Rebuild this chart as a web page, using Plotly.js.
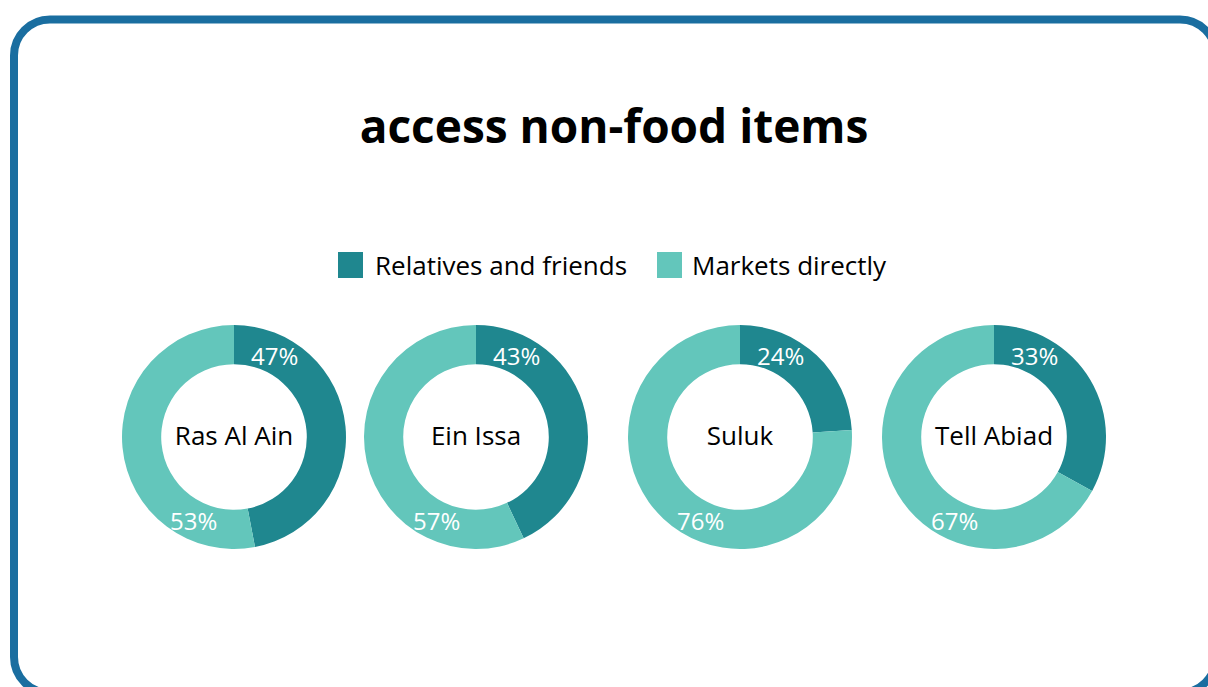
<!DOCTYPE html>
<html><head><meta charset="utf-8">
<script src="https://cdn.plot.ly/plotly-3.0.1.min.js"></script>
<style>html,body{margin:0;padding:0;background:#fff;overflow:hidden;} #chart{width:1208px;height:687px;}</style>
</head><body><div id="chart"></div>
<script>
// ---- data ----
const categories = ["Relatives and friends", "Markets directly"];
const locations = ["Ras Al Ain", "Ein Issa", "Suluk", "Tell Abiad"];
const relatives = [47, 43, 24, 33];
const markets = [53, 57, 76, 67];
const colors = ["#1f878f", "#63c6bb"];
const chartTitle = "access non-food items";

// ---- layout helpers ----
const W = 1208, H = 687;
const FONT = "Open Sans, Noto Sans, sans-serif";
const centersX = [234, 476, 740, 994];
const centerY = 437;
const R = 112;
const px = x => x / W;
const py = y => 1 - y / H;

const traces = [];
const annotations = [];
locations.forEach((loc, i) => {
  const cx = centersX[i];
  const vals = [relatives[i], markets[i]];
  traces.push({
    type: "pie",
    labels: categories,
    values: vals,
    sort: false,
    direction: "clockwise",
    rotation: 0,
    hole: 0.65,
    marker: {colors: colors, line: {width: 0}},
    textinfo: "none",
    hoverinfo: "label+percent",
    showlegend: false,
    title: {text: loc, position: "middle center", font: {size: 26, color: "#000", family: FONT}},
    domain: {x: [px(cx - R), px(cx + R)], y: [py(centerY + R), py(centerY - R)]}
  });
  const offs = [[40, -82], [-40, 83]];
  vals.forEach((v, k) => {
    annotations.push({
      xref: "paper", yref: "paper",
      x: px(cx + offs[k][0]), y: py(centerY + offs[k][1]),
      xanchor: "center", yanchor: "middle",
      text: v + "%", showarrow: false,
      font: {size: 24, color: "#ffffff", family: FONT}
    });
  });
});

// custom legend
const legendItems = [{sq: 338, tx: 373}, {sq: 657, tx: 690}];
const legendY = 265;
const shapes = [];
categories.forEach((c, k) => {
  const L = legendItems[k];
  shapes.push({type: "rect", xref: "paper", yref: "paper",
    x0: px(L.sq), x1: px(L.sq + 25), y0: py(legendY + 13), y1: py(legendY - 13),
    fillcolor: colors[k], line: {width: 0}});
  annotations.push({xref: "paper", yref: "paper", x: px(L.tx), y: py(legendY),
    xanchor: "left", yanchor: "middle", text: c, showarrow: false,
    font: {size: 26, color: "#000", family: FONT}});
});

// rounded frame (extends past the right and bottom edges, as in the reference)
(function () {
  const x0 = 14, x1 = 1216, y0 = 19.5, y1 = 693, r = 36, k = 0.5523 * r;
  const P = (x, y) => px(x).toFixed(5) + "," + py(y).toFixed(5);
  const path =
    "M" + P(x0 + r, y0) + " L" + P(x1 - r, y0) +
    " C" + P(x1 - r + k, y0) + " " + P(x1, y0 + r - k) + " " + P(x1, y0 + r) +
    " L" + P(x1, y1 - r) +
    " C" + P(x1, y1 - r + k) + " " + P(x1 - r + k, y1) + " " + P(x1 - r, y1) +
    " L" + P(x0 + r, y1) +
    " C" + P(x0 + r - k, y1) + " " + P(x0, y1 - r + k) + " " + P(x0, y1 - r) +
    " L" + P(x0, y0 + r) +
    " C" + P(x0, y0 + r - k) + " " + P(x0 + r - k, y0) + " " + P(x0 + r, y0) + " Z";
  shapes.push({type: "path", xref: "paper", yref: "paper", path: path,
    line: {color: "#1a6ea0", width: 8}, fillcolor: "rgba(0,0,0,0)", layer: "above"});
})();

const layout = {
  width: W, height: H,
  margin: {l: 0, r: 0, t: 0, b: 0},
  paper_bgcolor: "#ffffff",
  plot_bgcolor: "#ffffff",
  font: {family: FONT},
  title: {text: chartTitle, x: px(614), xanchor: "center", y: py(127), yanchor: "middle",
    font: {size: 46, color: "#000", family: FONT, weight: 700}},
  showlegend: false,
  annotations: annotations,
  shapes: shapes
};

Plotly.newPlot("chart", traces, layout, {displayModeBar: false, staticPlot: true});
</script>
</body></html>
